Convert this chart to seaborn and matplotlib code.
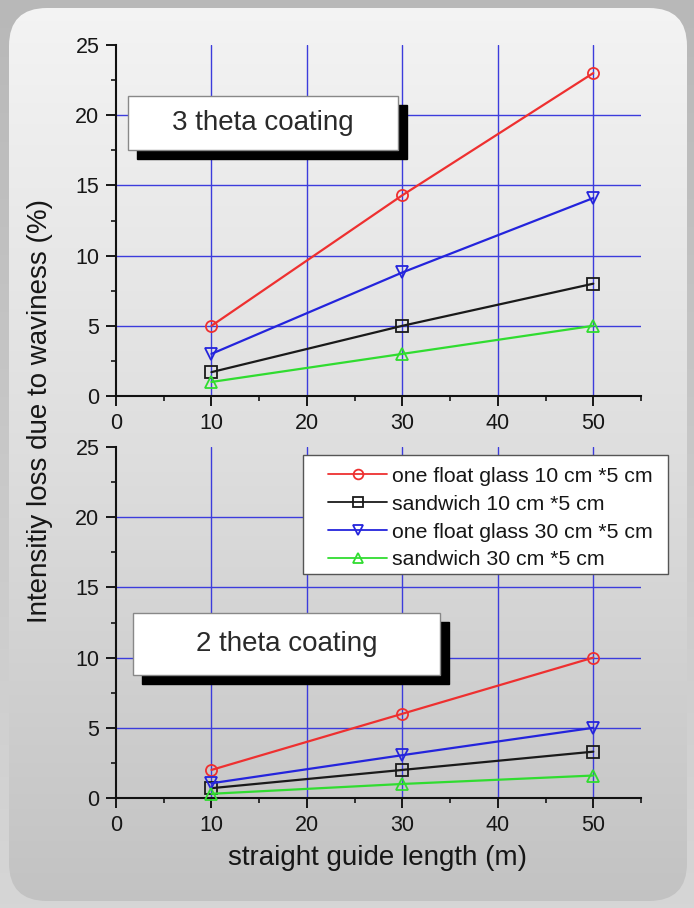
import numpy as np
import pandas as pd
import matplotlib
matplotlib.use("Agg")
import matplotlib.pyplot as plt
import seaborn as sns
from matplotlib.patches import Rectangle, FancyBboxPatch
from matplotlib.colors import LinearSegmentedColormap
from matplotlib.ticker import MultipleLocator
from matplotlib.lines import Line2D
import matplotlib.transforms as mtransforms

# guide lengths (m)
lengths = [10, 30, 50]

series_names = ["one float glass 10 cm *5 cm",
                "sandwich 10 cm *5 cm",
                "one float glass 30 cm *5 cm",
                "sandwich 30 cm *5 cm"]

# intensity loss (%) - 3 theta coating
theta3_float10 = [5.0, 14.3, 23.0]
theta3_sandwich10 = [1.7, 5.0, 8.0]
theta3_float30 = [3.0, 8.8, 14.1]
theta3_sandwich30 = [1.0, 3.0, 5.0]

# intensity loss (%) - 2 theta coating
theta2_float10 = [2.0, 6.0, 10.0]
theta2_sandwich10 = [0.7, 2.0, 3.3]
theta2_float30 = [1.05, 3.05, 5.0]
theta2_sandwich30 = [0.3, 1.0, 1.6]

colors = ["#ee3030", "#1a1a1a", "#2424dc", "#30dc30"]
markers = ["o", "s", "v", "^"]


def make_frame(values):
    rows = []
    for name, vals in zip(series_names, values):
        for x, y in zip(lengths, vals):
            rows.append({"series": name, "length": x, "loss": y})
    return pd.DataFrame(rows)


df3 = make_frame([theta3_float10, theta3_sandwich10, theta3_float30, theta3_sandwich30])
df2 = make_frame([theta2_float10, theta2_sandwich10, theta2_float30, theta2_sandwich30])

sns.set_theme(style="ticks")
plt.rcParams["font.family"] = ["Liberation Sans", "DejaVu Sans"]
plt.rcParams["text.color"] = "#161616"
plt.rcParams["xtick.color"] = "#161616"
plt.rcParams["ytick.color"] = "#161616"

W, H = 694, 908
fig = plt.figure(figsize=(W / 100, H / 100), dpi=100)

# background: outer gray and rounded gradient panel
bg = fig.add_axes([0, 0, 1, 1], zorder=-10)
bg.set_xlim(0, W)
bg.set_ylim(H, 0)
bg.axis("off")
outer = LinearSegmentedColormap.from_list("outer", ["#b8b8b8", "#c8c8c8", "#d6d6d6"])
bg.imshow(np.linspace(0, 1, 256)[:, None], cmap=outer, extent=(0, W, H, 0), aspect="auto")
inner = LinearSegmentedColormap.from_list("inner", ["#f4f4f4", "#dedede", "#c2c2c2"])
img = bg.imshow(np.linspace(0, 1, 256)[:, None], cmap=inner, extent=(0, W, H, 0), aspect="auto")
panel = FancyBboxPatch((9, 8), 678, 893, boxstyle="round,pad=0,rounding_size=38",
                       transform=bg.transData, facecolor="none", edgecolor="none")
bg.add_patch(panel)
img.set_clip_path(panel)

ax1 = fig.add_axes([116 / W, 1 - 396 / H, 525 / W, 351 / H])
ax2 = fig.add_axes([116 / W, 1 - 798 / H, 525 / W, 351 / H])


def style_axes(ax):
    ax.set_facecolor("none")
    ax.set_xlim(0, 55)
    ax.set_ylim(0, 25)
    ax.xaxis.set_major_locator(MultipleLocator(10))
    ax.xaxis.set_minor_locator(MultipleLocator(5))
    ax.yaxis.set_major_locator(MultipleLocator(5))
    ax.yaxis.set_minor_locator(MultipleLocator(2.5))
    for s in ["top", "right"]:
        ax.spines[s].set_visible(False)
    for s in ["left", "bottom"]:
        ax.spines[s].set_linewidth(1.5)
        ax.spines[s].set_color("#111111")
    ax.tick_params(which="major", direction="out", length=7, width=1.4, labelsize=15.5, pad=5)
    ax.tick_params(which="minor", direction="out", length=3.5, width=1.2)
    for v in [10, 20, 30, 40, 50]:
        ax.axvline(v, color="#3c3cdc", lw=1.0, zorder=0.5)
    for v in [5, 10, 15, 20]:
        ax.axhline(v, color="#3c3cdc", lw=1.0, zorder=0.5)


def draw_series(ax, df):
    for name, c, m in zip(series_names, colors, markers):
        sns.lineplot(data=df[df["series"] == name], x="length", y="loss", ax=ax,
                     color=c, marker=m, markersize=8, markerfacecolor="none",
                     markeredgecolor=c, markeredgewidth=1.3, linewidth=1.6,
                     legend=False, zorder=3, clip_on=False)
    ax.set_xlabel("")
    ax.set_ylabel("")


def label_box(ax, x0, x1, y0, y1, text):
    shadow_tr = mtransforms.offset_copy(ax.transData, fig=fig, x=9, y=-9, units="dots")
    ax.add_patch(Rectangle((x0, y0), x1 - x0, y1 - y0, transform=shadow_tr,
                           facecolor="black", edgecolor="black", zorder=4))
    ax.add_patch(Rectangle((x0, y0), x1 - x0, y1 - y0, facecolor="white",
                           edgecolor="#888888", lw=1.0, zorder=5))
    ax.text((x0 + x1) / 2, (y0 + y1) / 2, text, ha="center", va="center",
            fontsize=20, color="#2a2a2a", zorder=6)


for ax, df in [(ax1, df3), (ax2, df2)]:
    style_axes(ax)
    draw_series(ax, df)

label_box(ax1, 1.3, 29.5, 17.5, 21.4, "3 theta coating")
label_box(ax2, 1.8, 33.9, 8.75, 13.2, "2 theta coating")

# legend frame drawn separately so it can be wider than its contents
ax2.add_patch(Rectangle((0.3556, 0.638), 1.0514 - 0.3556, 0.977 - 0.638,
                        transform=ax2.transAxes, facecolor="white", edgecolor="#555555",
                        lw=1.0, zorder=7, clip_on=False))
handles = [Line2D([], [], color=c, marker=m, markersize=7, markerfacecolor="none",
                  markeredgecolor=c, markeredgewidth=1.3, lw=1.3)
           for c, m in zip(colors, markers)]
leg = ax2.legend(handles, series_names, loc="upper left", bbox_to_anchor=(0.404, 0.944),
                 fontsize=15.3, frameon=False, handlelength=2.78, handletextpad=0.23,
                 labelspacing=0.42, borderpad=0, borderaxespad=0)
leg.set_zorder(8)

fig.text(40 / W, 1 - 411 / H, "Intensitiy loss due to waviness (%)", rotation=90,
         ha="center", va="center", fontsize=20)
fig.text(378 / W, 1 - 858 / H, "straight guide length (m)", ha="center", va="center",
         fontsize=20)

fig.savefig("out.png", dpi=100)
